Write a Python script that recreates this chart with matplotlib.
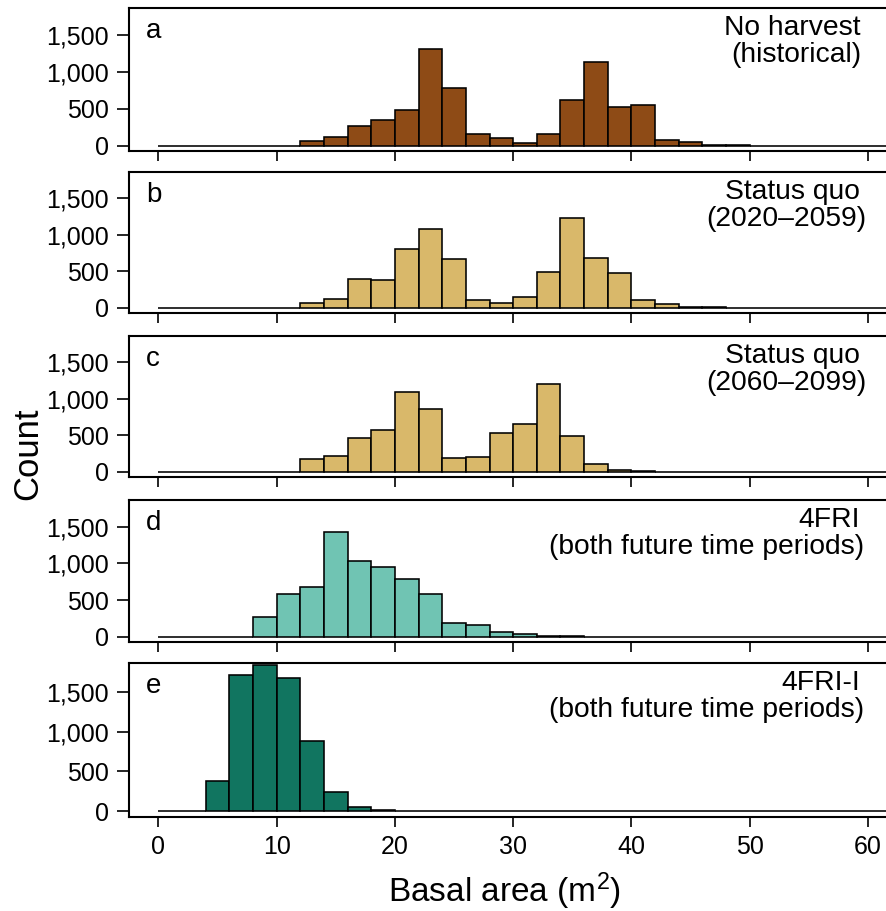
import matplotlib
matplotlib.use("Agg")
import matplotlib.pyplot as plt
import numpy as np

plt.rcParams['font.family'] = ['Liberation Sans', 'DejaVu Sans']
plt.rcParams['mathtext.fontset'] = 'custom'
plt.rcParams['mathtext.rm'] = 'Liberation Sans'
plt.rcParams['mathtext.it'] = 'Liberation Sans:italic'

# Histogram bins: 2 m^2 wide, 0 to 64
bin_edges = np.arange(0, 66, 2)

# Counts per bin for each management scenario
no_harvest = [0, 0, 0, 0, 0, 0, 59, 118, 264, 341, 477, 1314, 777, 155, 100, 36,
              164, 623, 1127, 523, 555, 82, 45, 9, 3, 1, 0, 0, 0, 0, 0, 0]
status_quo_early = [0, 0, 0, 0, 0, 0, 64, 123, 391, 382, 800, 1082, 673, 100, 59, 141,
                    491, 1232, 682, 482, 100, 45, 6, 4, 3, 2, 1, 1, 1, 0, 0, 0]
status_quo_late = [0, 0, 0, 0, 0, 0, 173, 218, 459, 568, 1091, 864, 182, 209, 536, 650,
                   1200, 491, 109, 30, 6, 3, 2, 1, 1, 1, 0, 0, 0, 0, 0, 0]
fri = [0, 0, 0, 0, 264, 577, 682, 1423, 1032, 950, 786, 577, 191, 159, 59, 32,
       14, 5, 2, 1, 1, 0, 0, 0, 0, 0, 0, 0, 0, 0, 0, 0]
fri_i = [0, 0, 380, 1713, 1834, 1675, 881, 242, 55, 17, 6, 3, 2, 1, 0, 0,
         0, 0, 0, 0, 0, 0, 0, 0, 0, 0, 0, 0, 0, 0, 0, 0]

series = [no_harvest, status_quo_early, status_quo_late, fri, fri_i]
letters = ["a", "b", "c", "d", "e"]
titles = [("No harvest", "(historical)"),
          ("Status quo", "(2020\u20132059)"),
          ("Status quo", "(2060\u20132099)"),
          ("4FRI", "(both future time periods)"),
          ("4FRI-I", "(both future time periods)")]
colors = ["#8E4B16", "#D9B86A", "#D9B86A", "#70C4B3", "#117560"]

y_ticks = [0, 500, 1000, 1500]
y_ticklabels = ["0", "500", "1,000", "1,500"]
x_ticks = [0, 10, 20, 30, 40, 50, 60]

W, H = 886, 911
fig = plt.figure(figsize=(W / 100, H / 100), dpi=100)

# panel frames in pixels (top, bottom)
frames = [(8, 151), (172, 313), (336, 477), (500, 642), (663, 817)]
left_px, right_px = 129, 921
second_line_right = [861, 866, 866, 864, 864]


def fx(px):
    return px / W


def fy(py):
    return 1 - py / H


for i, (counts, (top, bot)) in enumerate(zip(series, frames)):
    ax = fig.add_axes([fx(left_px), fy(bot), (right_px - left_px) / W, (bot - top) / H])
    ax.bar(bin_edges[:-1], counts, width=2, align='edge', color=colors[i],
           edgecolor='black', linewidth=1.15)
    ax.set_xlim(-2.48, 64.48)
    ax.set_ylim(-72, 1862)
    for side in ['top', 'bottom', 'left']:
        ax.spines[side].set_linewidth(1.5)
    ax.spines['right'].set_visible(False)
    ax.set_yticks(y_ticks)
    ax.set_yticklabels(y_ticklabels)
    ax.set_xticks(x_ticks)
    ax.tick_params(axis='y', direction='out', length=8.6, width=1.2, pad=6, labelsize=18)
    ax.tick_params(axis='x', direction='out', length=7.2, width=1.2, pad=6, labelsize=18)
    if i < len(series) - 1:
        ax.set_xticklabels([])

    fig.text(fx(146), fy(top + 30), letters[i], ha='left', va='baseline', fontsize=20)
    fig.text(fx(860), fy(top + 27), titles[i][0], ha='right', va='baseline', fontsize=20.3)
    fig.text(fx(second_line_right[i]), fy(top + 54), titles[i][1], ha='right',
             va='baseline', fontsize=20.3)

fig.text(fx(388), fy(902), "Basal area (m$^{2}$)", ha='left', va='baseline', fontsize=24)
fig.text(fx(28), fy(454), "Count", ha='center', va='center', rotation=90, fontsize=25)

fig.savefig("out.png", dpi=100)
